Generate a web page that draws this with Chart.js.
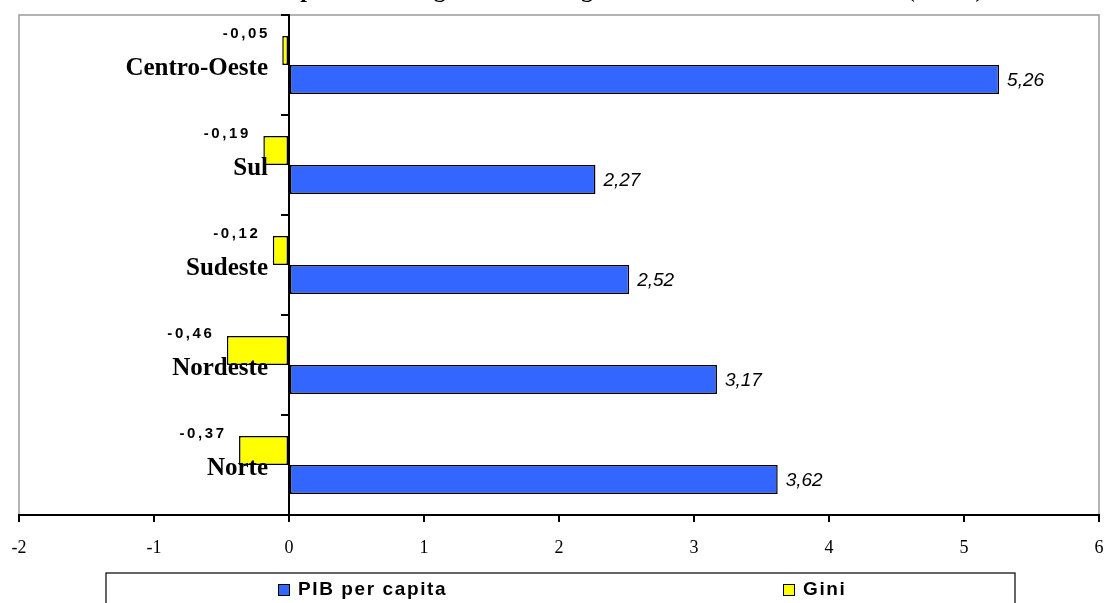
<!DOCTYPE html>
<html lang="pt-BR">
<head>
<meta charset="utf-8">
<title>PIB per capita e Gini por região</title>
<script src="https://cdn.jsdelivr.net/npm/chart.js@4.4.1/dist/chart.umd.min.js"></script>
<style>
  html, body { margin: 0; padding: 0; background: #ffffff; }
  canvas { display: block; }
</style>
</head>
<body>
<canvas id="grafico" width="1104" height="603"></canvas>
<script>
// Regiões (de cima para baixo) e valores por série
const regioes = ['Centro-Oeste', 'Sul', 'Sudeste', 'Nordeste', 'Norte'];
const pibPerCapita = [5.26, 2.27, 2.52, 3.17, 3.62];
const gini = [-0.05, -0.19, -0.12, -0.46, -0.37];

// Eixo horizontal
const eixoMin = -2;
const eixoMax = 6;
const eixoPasso = 1;

const titulo = 'Impacto da desigualdade e do ganho de renda sobre a miséria (em %)';

const SERIF = '"Liberation Serif", "Times New Roman", Times, serif';
const SANS = '"Liberation Sans", Arial, Helvetica, sans-serif';

const AZUL = '#3366ff';
const AMARELO = '#ffff00';

function formatarBR(v) {
  return v.toFixed(2).replace('.', ',');
}

// Texto com espaçamento extra entre letras, desenhado caractere a caractere
function textoEspacado(ctx, texto, x, y, espaco, alinhamento) {
  const chars = Array.from(texto);
  let total = 0;
  const larguras = chars.map(c => ctx.measureText(c).width);
  larguras.forEach(w => { total += w; });
  total += espaco * (chars.length - 1);
  let cx = x;
  if (alinhamento === 'right') cx = x - total;
  else if (alinhamento === 'center') cx = x - total / 2;
  ctx.textAlign = 'left';
  chars.forEach((c, i) => {
    ctx.fillText(c, cx, y);
    cx += larguras[i] + espaco;
  });
  return total;
}

// Moldura cinza da área de plotagem e título
const molduraPlugin = {
  id: 'moldura',
  beforeDraw(chart) {
    const { ctx, chartArea: a } = chart;
    ctx.save();
    ctx.strokeStyle = '#9a9a9a';
    ctx.lineWidth = 1.5;
    ctx.strokeRect(a.left, a.top, a.right - a.left, a.bottom - a.top);
    ctx.fillStyle = '#000000';
    ctx.font = 'bold 24px ' + SERIF;
    ctx.textAlign = 'left';
    ctx.textBaseline = 'alphabetic';
    ctx.fillText(titulo, 271, -3);
    ctx.restore();
  }
};

// Nomes das regiões, à esquerda do eixo vertical (que fica no zero)
const categoriasPlugin = {
  id: 'categorias',
  afterDatasetsDraw(chart) {
    const { ctx } = chart;
    const ys = chart.scales.y;
    const xs = chart.scales.x;
    const x0 = xs.getPixelForValue(0);
    ctx.save();
    ctx.fillStyle = '#000000';
    ctx.font = 'bold 25px ' + SERIF;
    ctx.textAlign = 'right';
    ctx.textBaseline = 'alphabetic';
    chart.data.labels.forEach((lab, i) => {
      ctx.fillText(lab, x0 - 21, ys.getPixelForValue(i) + 10);
    });
    ctx.restore();
  }
};

// Rótulos de valor das barras
const rotulosPlugin = {
  id: 'rotulos',
  afterDatasetsDraw(chart) {
    const { ctx } = chart;
    ctx.save();
    ctx.fillStyle = '#000000';
    chart.data.datasets.forEach((ds, di) => {
      const meta = chart.getDatasetMeta(di);
      meta.data.forEach((bar, i) => {
        const v = ds.data[i];
        const txt = formatarBR(v);
        if (v >= 0) {
          ctx.font = 'italic 19px ' + SANS;
          ctx.textBaseline = 'middle';
          ctx.textAlign = 'left';
          ctx.fillText(txt, bar.x + 8, bar.y + 1);
        } else {
          ctx.font = 'bold 15px ' + SANS;
          ctx.textBaseline = 'middle';
          const topo = bar.y - bar.height / 2;
          textoEspacado(ctx, txt, bar.x - 15, topo - 2, 2.6, 'right');
        }
      });
    });
    ctx.restore();
  }
};

// Legenda em caixa, abaixo do eixo
const legendaPlugin = {
  id: 'legendaCaixa',
  afterDraw(chart) {
    const { ctx } = chart;
    ctx.save();
    ctx.strokeStyle = '#000000';
    ctx.lineWidth = 1.2;
    ctx.strokeRect(106, 573, 909, 60);
    const itens = [
      { ds: chart.data.datasets[1], x: 278 },
      { ds: chart.data.datasets[0], x: 783 }
    ];
    itens.forEach(it => {
      ctx.fillStyle = it.ds.backgroundColor;
      ctx.fillRect(it.x, 584, 11, 11);
      ctx.strokeStyle = '#000000';
      ctx.lineWidth = 1;
      ctx.strokeRect(it.x + 0.5, 584.5, 11, 11);
      ctx.fillStyle = '#000000';
      ctx.font = 'bold 19px ' + SANS;
      ctx.textBaseline = 'middle';
      textoEspacado(ctx, it.ds.label, it.x + 20, 590, 1.6, 'left');
    });
    ctx.restore();
  }
};

new Chart(document.getElementById('grafico'), {
  type: 'bar',
  data: {
    labels: regioes,
    datasets: [
      {
        label: 'Gini',
        data: gini,
        backgroundColor: AMARELO,
        borderColor: '#000000',
        borderWidth: 1.5,
        borderSkipped: false,
        categoryPercentage: 0.58,
        barPercentage: 1.0
      },
      {
        label: 'PIB per capita',
        data: pibPerCapita,
        backgroundColor: AZUL,
        borderColor: '#000000',
        borderWidth: 1.5,
        borderSkipped: false,
        categoryPercentage: 0.58,
        barPercentage: 1.0
      }
    ]
  },
  options: {
    indexAxis: 'y',
    responsive: false,
    animation: false,
    devicePixelRatio: 1,
    layout: { padding: { left: 19, right: 5, top: 15, bottom: 38 } },
    plugins: {
      legend: { display: false },
      title: { display: false },
      tooltip: { enabled: false }
    },
    scales: {
      x: {
        type: 'linear',
        min: eixoMin,
        max: eixoMax,
        position: 'bottom',
        afterFit(scale) {
          scale.height = 50;
          scale.paddingLeft = 0;
          scale.paddingRight = 0;
        },
        ticks: {
          stepSize: eixoPasso,
          color: '#000000',
          font: { family: SERIF, size: 18 },
          padding: 15
        },
        grid: {
          display: true,
          drawOnChartArea: false,
          drawTicks: true,
          tickLength: 7,
          color: '#000000',
          lineWidth: 2
        },
        border: { display: true, color: '#000000', width: 2 }
      },
      y: {
        type: 'category',
        position: { x: 0 },
        ticks: { display: false },
        grid: {
          display: true,
          offset: true,
          drawOnChartArea: false,
          drawTicks: true,
          tickLength: 7,
          color: '#000000',
          lineWidth: 2
        },
        border: { display: true, color: '#000000', width: 2 }
      }
    }
  },
  plugins: [molduraPlugin, categoriasPlugin, rotulosPlugin, legendaPlugin]
});
</script>
</body>
</html>
